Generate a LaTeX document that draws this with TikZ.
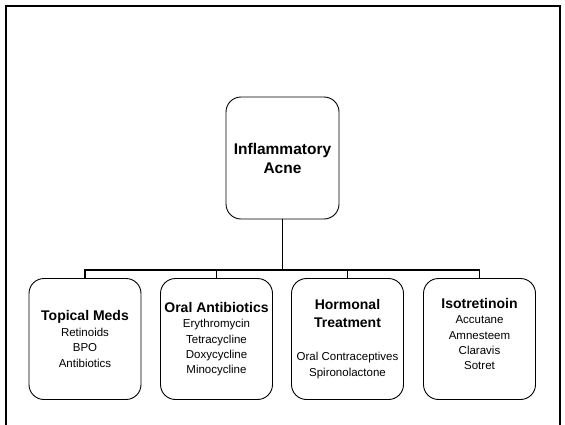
\documentclass[tikz,border=0pt]{standalone}
\usepackage{fontspec}
\setmainfont{Liberation Sans}
\newcommand{\grouptitle}{\fontsize{14}{16}\selectfont\bfseries}
\begin{document}
\begin{tikzpicture}[
    x=1pt, y=-1pt,
    rootbox/.style={rectangle, draw, line width=0.9pt, rounded corners=15pt, minimum width=113pt, minimum height=122pt, align=center, font=\fontsize{15.5}{19}\selectfont\bfseries},
    groupbox/.style={rectangle, draw, line width=0.9pt, rounded corners=15pt, minimum width=112pt, minimum height=121pt, align=center, font=\fontsize{11.5}{15.3}\selectfont},
    link/.style={line width=1.8pt},
    frame/.style={line width=2.2pt}
]
\useasboundingbox (0,0) rectangle (565,424);

% Slide frame (open at the bottom)
\draw[frame] (6,430) -- (6,6) -- (560,6) -- (560,430);

% Root
\node[rootbox] (acne) at (282.5,158) {Inflammatory\\Acne};

% Treatment groups
\node[groupbox] (topical) at (85,339) {{\grouptitle Topical Meds}\\[0.5pt]Retinoids\\BPO\\Antibiotics};
\node[groupbox] (oral) at (216.5,339) {{\grouptitle Oral Antibiotics}\\[0.5pt]Erythromycin\\Tetracycline\\Doxycycline\\Minocycline};
\node[groupbox] (hormonal) at (347.5,339) {{\grouptitle Hormonal}\\[2.7pt]{\grouptitle Treatment}\\[17.7pt]Oral Contraceptives\\Spironolactone};
\node[groupbox] (isotret) at (479.5,339) {{\grouptitle Isotretinoin}\\[0.5pt]Accutane\\Amnesteem\\Claravis\\Sotret\\[-5pt]\mbox{}};

% Tree connectors
\coordinate (bus) at (282.5,270);
\draw[link] (acne) -- (bus);
\draw[link] (topical.north) |- (bus);
\draw[link] (oral.north) |- (bus);
\draw[link] (hormonal.north) |- (bus);
\draw[link] (isotret.north) |- (bus);

\end{tikzpicture}
\end{document}
